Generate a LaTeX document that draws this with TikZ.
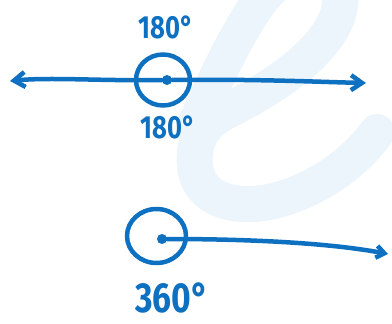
\documentclass[tikz,border=0pt]{standalone}
\usepackage{fontspec}
\setmainfont{Fira Sans}
\usetikzlibrary{arrows.meta,shapes.geometric}
\definecolor{pen}{RGB}{14,112,192}
\definecolor{wm}{RGB}{236,245,252}
\begin{document}
\begin{tikzpicture}[x=1pt,y=-1pt,line cap=round,line join=round,
  stroke/.style={draw=pen,line width=4.5pt},
  ring/.style={ellipse,draw=pen,line width=4.5pt,inner sep=0pt,outer sep=0pt},
  dotmark/.style={circle,fill=pen,inner sep=0pt,minimum size=10pt},
  lbl/.style={text=pen,inner sep=0pt,xscale=0.8},
  bigtip/.style={-{Straight Barb[length=11pt,width=15pt]}},
  smalltip/.style={-{Straight Barb[length=8pt,width=12pt]}}]
\useasboundingbox (0,0) rectangle (392,324);
\fill[white] (0,0) rectangle (392,324);
% watermark
\begin{scope}
\clip (0,0) rectangle (392,324);
\draw[wm,line width=36pt]
  (195,125) .. controls (215,80) and (240,25) .. (265,-5)
  .. controls (290,-35) and (345,-35) .. (340,5)
  .. controls (335,45) and (280,85) .. (225,112)
  .. controls (200,125) and (193,145) .. (195,165)
  .. controls (197,195) and (225,206) .. (255,204)
  .. controls (300,200) and (350,170) .. (377,132);
\end{scope}
% top figure
\node[ring,minimum width=54pt,minimum height=51pt] (c1) at (163,80) {};
\node[dotmark] (d1) at (167,80) {};
\coordinate (L) at (10,81);
\coordinate (R) at (366,83);
\draw[stroke,bigtip] (d1) .. controls (100,81) and (50,77) .. (L);
\draw[stroke,bigtip] (d1) .. controls (260,79) and (320,82) .. (R);
\node[lbl,font=\fontsize{32}{32}\bfseries\selectfont] (t1) at (166,27) {180°};
\node[lbl,font=\fontsize{32}{32}\bfseries\selectfont] (t2) at (168,127) {180°};
% bottom figure
\node[ring,minimum width=59pt,minimum height=54pt] (c2) at (156.5,236) {};
\node[dotmark] (d2) at (162,239) {};
\coordinate (R2) at (388,254);
\draw[stroke,smalltip] (d2) .. controls (250,239) and (330,243) .. (R2);
\node[lbl,font=\fontsize{42}{42}\bfseries\selectfont] (t3) at (172,298) {360°};
\end{tikzpicture}
\end{document}
